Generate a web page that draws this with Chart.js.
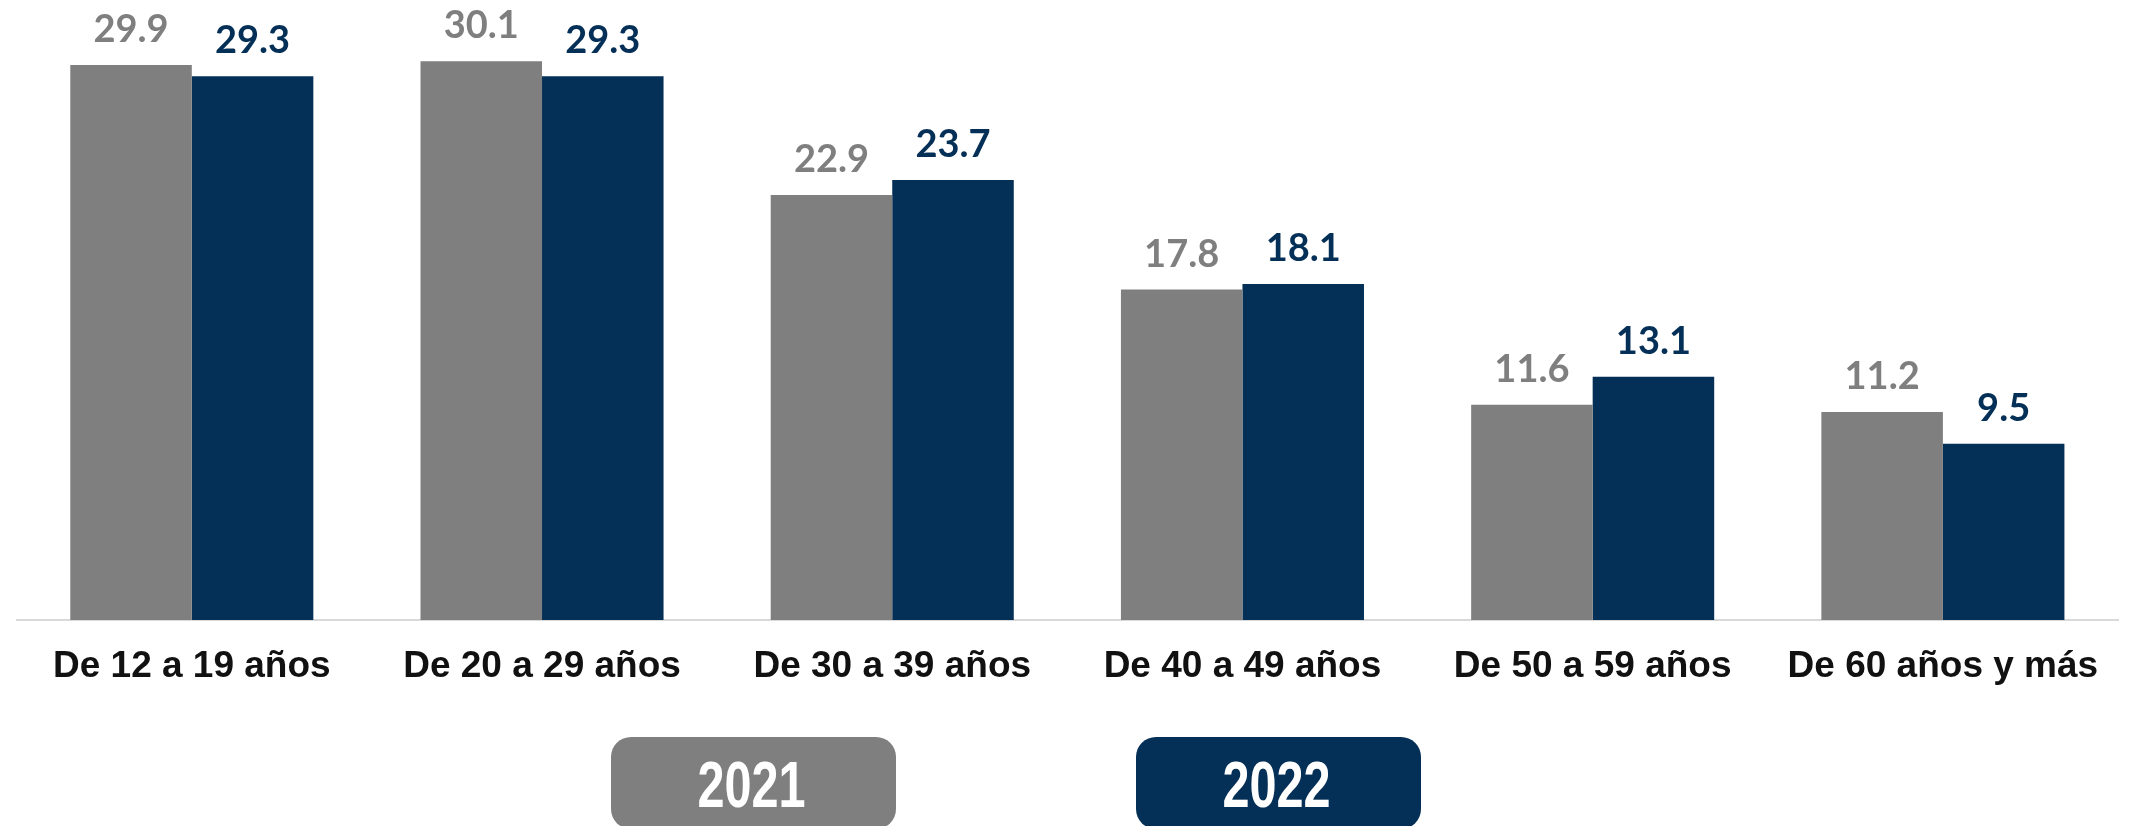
<!DOCTYPE html>
<html>
<head>
<meta charset="utf-8">
<script src="https://cdn.jsdelivr.net/npm/chart.js@4.4.1/dist/chart.umd.min.js"></script>
<style>
  html, body { margin: 0; padding: 0; background: #ffffff; }
  #wrap { position: relative; width: 2131px; height: 826px; }
</style>
</head>
<body>
<div id="wrap"><canvas id="c" width="2131" height="826"></canvas></div>
<script>
const categories = ["De 12 a 19 años", "De 20 a 29 años", "De 30 a 39 años", "De 40 a 49 años", "De 50 a 59 años", "De 60 años y más"];
const seriesNames = ["2021", "2022"];
const values2021 = [29.9, 30.1, 22.9, 17.8, 11.6, 11.2];
const values2022 = [29.3, 29.3, 23.7, 18.1, 13.1, 9.5];

const GRAY = "#7f7f7f";
const NAVY = "#042f56";

const valueLabels = {
  id: "valueLabels",
  afterDatasetsDraw(chart) {
    const ctx = chart.ctx;
    ctx.save();
    ctx.font = "bold 38px Lato, 'Open Sans', sans-serif";
    ctx.textAlign = "center";
    ctx.textBaseline = "alphabetic";
    chart.data.datasets.forEach((ds, i) => {
      const meta = chart.getDatasetMeta(i);
      ctx.fillStyle = ds.backgroundColor;
      meta.data.forEach((bar, j) => {
        ctx.fillText(ds.data[j].toFixed(1), bar.x, bar.y - 23);
      });
    });
    ctx.restore();
  }
};

const boxLegend = {
  id: "boxLegend",
  afterDraw(chart, args, opts) {
    const ctx = chart.ctx;
    ctx.save();
    chart.data.datasets.forEach((ds, i) => {
      const b = opts.boxes[i];
      ctx.fillStyle = ds.backgroundColor;
      ctx.beginPath();
      ctx.roundRect(b.x, b.y, b.w, b.h, 20);
      ctx.fill();
      ctx.fillStyle = "#ffffff";
      ctx.font = "bold 64px 'Liberation Sans', Arial, sans-serif";
      ctx.textAlign = "center";
      ctx.textBaseline = "alphabetic";
      ctx.save();
      const cx = b.x + b.w / 2 - 2;
      ctx.translate(cx, 807);
      ctx.scale(0.76, 1);
      ctx.fillText(ds.label, 0, 0);
      ctx.restore();
    });
    ctx.restore();
  }
};

new Chart(document.getElementById("c"), {
  type: "bar",
  data: {
    labels: categories,
    datasets: [
      { label: seriesNames[0], data: values2021, backgroundColor: GRAY, borderWidth: 0 },
      { label: seriesNames[1], data: values2022, backgroundColor: NAVY, borderWidth: 0 }
    ]
  },
  options: {
    responsive: false,
    animation: false,
    devicePixelRatio: 1,
    layout: { padding: { left: 16.7, right: 13, top: 7.5, bottom: 0 } },
    datasets: { bar: { barPercentage: 1.0, categoryPercentage: 0.694 } },
    plugins: {
      legend: { display: false },
      tooltip: { enabled: false },
      boxLegend: {
        boxes: [
          { x: 611, y: 737, w: 285, h: 92 },
          { x: 1136, y: 737, w: 285, h: 92 }
        ]
      }
    },
    scales: {
      x: {
        grid: { display: false, drawTicks: false },
        border: { display: true, color: "#d9d9d9", width: 2 },
        ticks: {
          color: "#111111",
          padding: 25,
          maxRotation: 0,
          autoSkip: false,
          font: { family: "'Liberation Sans', Arial, sans-serif", size: 37, weight: "bold" }
        },
        afterFit(scale) { scale.height = 206; }
      },
      y: {
        display: false,
        min: 0,
        max: 33,
        beginAtZero: true
      }
    }
  },
  plugins: [valueLabels, boxLegend]
});
</script>
</body>
</html>
